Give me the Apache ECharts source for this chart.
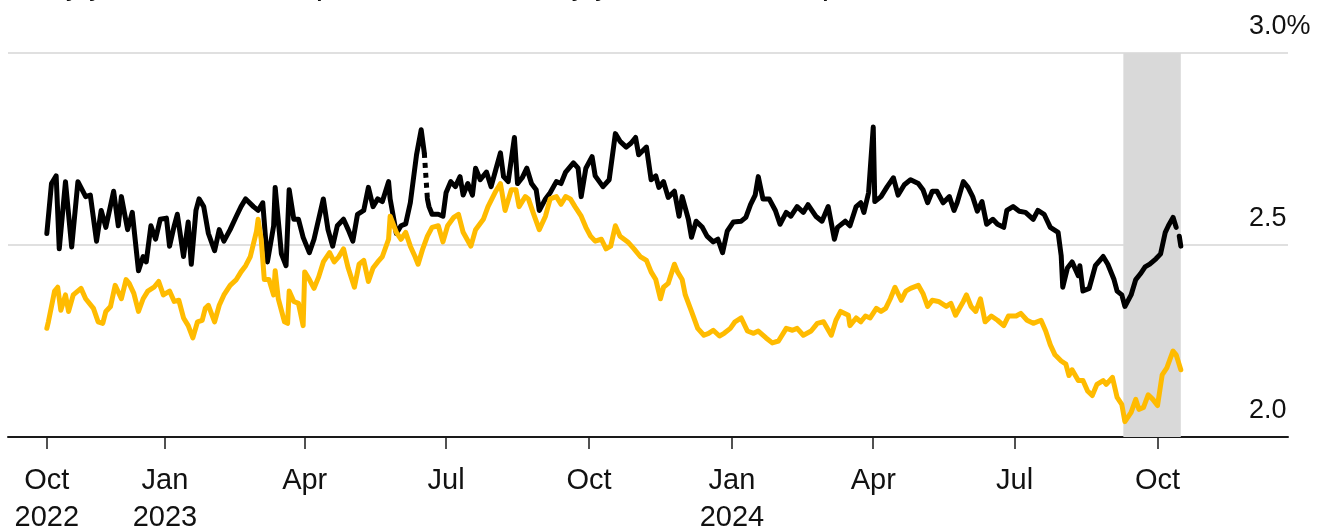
<!DOCTYPE html>
<html><head><meta charset="utf-8">
<script src="https://cdn.jsdelivr.net/npm/echarts@6/dist/echarts.min.js"></script>
<style>html,body{margin:0;padding:0;background:#fff}#c{width:1318px;height:528px}</style>
</head><body><div id="c"></div>
<script>
const FONT = '"Liberation Sans", "Helvetica Neue", Arial, sans-serif';

const seriesNames = ['US 5y5y forward inflation swap', 'Euro-area 5y5y forward inflation swap'];

const blackDates = ['2022-10-17','2022-10-20','2022-10-23','2022-10-25','2022-10-29','2022-11-02','2022-11-06','2022-11-11','2022-11-14','2022-11-18','2022-11-21','2022-11-24','2022-11-29','2022-12-02','2022-12-04','2022-12-08','2022-12-11','2022-12-15','2022-12-18','2022-12-20','2022-12-23','2022-12-26','2022-12-29',
'2023-01-02','2023-01-04','2023-01-07','2023-01-09','2023-01-13','2023-01-16','2023-01-18','2023-01-21','2023-01-23','2023-01-26','2023-01-29','2023-02-02','2023-02-05','2023-02-08','2023-02-12','2023-02-16','2023-02-19','2023-02-22','2023-02-27','2023-03-02','2023-03-05','2023-03-08','2023-03-12','2023-03-13','2023-03-17','2023-03-20','2023-03-22','2023-03-25','2023-03-28','2023-03-31',
'2023-04-04','2023-04-07','2023-04-13','2023-04-16','2023-04-19','2023-04-22','2023-04-26','2023-04-29','2023-05-02','2023-05-05','2023-05-09','2023-05-12','2023-05-15','2023-05-18','2023-05-21','2023-05-25','2023-05-26','2023-05-30','2023-06-02','2023-06-05','2023-06-08','2023-06-12','2023-06-15','2023-06-17','2023-06-18','2023-06-19','2023-06-20','2023-06-22','2023-06-26','2023-06-29',
'2023-07-01','2023-07-04','2023-07-07','2023-07-10','2023-07-12','2023-07-15','2023-07-18','2023-07-20','2023-07-23','2023-07-27','2023-07-30','2023-08-02','2023-08-05','2023-08-07','2023-08-10','2023-08-14','2023-08-16','2023-08-19','2023-08-22','2023-08-25','2023-08-28','2023-08-30','2023-09-03','2023-09-06','2023-09-10','2023-09-13','2023-09-16','2023-09-21','2023-09-24','2023-09-26','2023-09-29',
'2023-10-03','2023-10-05','2023-10-10','2023-10-14','2023-10-18','2023-10-21','2023-10-25','2023-10-28','2023-10-31','2023-11-02','2023-11-07','2023-11-10','2023-11-13','2023-11-15','2023-11-18','2023-11-21','2023-11-25','2023-11-28','2023-11-30','2023-12-04','2023-12-06','2023-12-09','2023-12-13','2023-12-16','2023-12-20','2023-12-23','2023-12-26','2023-12-29',
'2024-01-02','2024-01-07','2024-01-10','2024-01-13','2024-01-16','2024-01-18','2024-01-21','2024-01-25','2024-01-29','2024-02-01','2024-02-05','2024-02-08','2024-02-12','2024-02-16','2024-02-19','2024-02-24','2024-02-28','2024-03-03','2024-03-07','2024-03-09','2024-03-14','2024-03-17','2024-03-21','2024-03-24','2024-03-26','2024-03-29',
'2024-04-01','2024-04-02','2024-04-06','2024-04-10','2024-04-14','2024-04-17','2024-04-21','2024-04-25','2024-04-30','2024-05-03','2024-05-06','2024-05-09','2024-05-12','2024-05-16','2024-05-20','2024-05-23','2024-05-25','2024-05-29','2024-06-01','2024-06-04','2024-06-07','2024-06-10','2024-06-13','2024-06-17','2024-06-20','2024-06-24','2024-06-26','2024-06-30',
'2024-07-04','2024-07-08','2024-07-13','2024-07-16','2024-07-20','2024-07-24','2024-07-29','2024-07-31','2024-08-01','2024-08-04','2024-08-07','2024-08-11','2024-08-12','2024-08-14','2024-08-18','2024-08-22','2024-08-27','2024-08-30','2024-09-03','2024-09-05','2024-09-08','2024-09-10','2024-09-14','2024-09-17','2024-09-20','2024-09-23','2024-09-26','2024-09-30',
'2024-10-03','2024-10-06','2024-10-08','2024-10-11','2024-10-13','2024-10-14','2024-10-15','2024-10-16'];
const blackValues = [2.53,2.66,2.68,2.49,2.665,2.495,2.665,2.626,2.63,2.51,2.59,2.546,2.64,2.55,2.626,2.54,2.585,2.433,2.47,2.456,2.55,2.515,2.567,
2.57,2.497,2.55,2.58,2.47,2.56,2.45,2.59,2.62,2.60,2.53,2.485,2.54,2.51,2.54,2.575,2.60,2.62,2.60,2.59,2.61,2.456,2.55,2.65,2.477,2.446,2.644,2.567,2.567,2.52,
2.48,2.515,2.62,2.54,2.497,2.55,2.567,2.54,2.51,2.58,2.59,2.65,2.60,2.62,2.613,2.665,2.62,2.53,2.55,2.555,2.61,2.735,2.80,2.74,null,2.62,2.60,2.58,2.58,2.575,
2.636,2.665,2.652,2.678,2.63,2.66,2.63,2.70,2.67,2.69,2.652,2.696,2.74,2.678,2.665,2.78,2.66,2.675,2.70,2.66,2.644,2.59,2.62,2.636,2.665,2.66,2.69,2.714,2.70,2.626,2.70,
2.73,2.68,2.652,2.67,2.79,2.77,2.755,2.765,2.78,2.735,2.755,2.67,2.68,2.65,2.665,2.624,2.64,2.575,2.626,2.567,2.52,2.562,2.546,2.523,2.508,2.515,2.48,2.536,
2.56,2.562,2.572,2.605,2.63,2.678,2.62,2.62,2.59,2.554,2.585,2.575,2.60,2.585,2.605,2.575,2.562,2.60,2.515,2.546,2.562,2.55,2.60,2.61,2.585,2.636,
2.807,2.613,2.626,2.652,2.675,2.63,2.657,2.67,2.66,2.644,2.61,2.64,2.64,2.61,2.626,2.59,2.61,2.665,2.65,2.626,2.588,2.613,2.554,2.567,2.554,2.546,2.59,2.60,
2.588,2.585,2.567,2.59,2.58,2.546,2.533,2.472,2.39,2.44,2.456,2.42,2.446,2.38,2.387,2.446,2.47,2.45,2.41,2.38,2.37,2.34,2.37,2.41,2.425,2.443,2.45,2.464,
2.477,2.533,2.55,2.572,2.546,null,2.523,2.497];

const bridgeDates = ['2023-06-17','2023-06-19'];
const bridgeValues = [2.74, 2.62];

const yellowDates = ['2022-10-17','2022-10-18','2022-10-22','2022-10-24','2022-10-26','2022-10-29','2022-10-31','2022-11-03','2022-11-08','2022-11-11','2022-11-16','2022-11-19','2022-11-22','2022-11-24','2022-11-27','2022-11-30','2022-12-04','2022-12-07','2022-12-09','2022-12-12','2022-12-15','2022-12-18','2022-12-21','2022-12-25','2022-12-28','2022-12-31',
'2023-01-04','2023-01-07','2023-01-10','2023-01-13','2023-01-16','2023-01-19','2023-01-22','2023-01-25','2023-01-27','2023-01-29','2023-02-02','2023-02-05','2023-02-08','2023-02-12','2023-02-16','2023-02-19','2023-02-22','2023-02-25','2023-03-01','2023-03-02','2023-03-04','2023-03-06','2023-03-09','2023-03-12','2023-03-13','2023-03-15','2023-03-19','2023-03-21','2023-03-22','2023-03-25','2023-03-28','2023-03-31',
'2023-04-01','2023-04-04','2023-04-07','2023-04-10','2023-04-13','2023-04-17','2023-04-20','2023-04-23','2023-04-26','2023-04-29','2023-05-03','2023-05-06','2023-05-09','2023-05-12','2023-05-15','2023-05-18','2023-05-21','2023-05-25','2023-05-26','2023-05-30','2023-06-02','2023-06-05','2023-06-08','2023-06-11','2023-06-13','2023-06-16','2023-06-19','2023-06-22','2023-06-26','2023-06-29',
'2023-07-02','2023-07-06','2023-07-09','2023-07-12','2023-07-17','2023-07-20','2023-07-25','2023-07-28','2023-08-02','2023-08-05','2023-08-08','2023-08-12','2023-08-15','2023-08-17','2023-08-21','2023-08-23','2023-08-26','2023-08-30','2023-09-03','2023-09-06','2023-09-10','2023-09-13','2023-09-16','2023-09-19','2023-09-22','2023-09-26','2023-09-29',
'2023-10-02','2023-10-05','2023-10-09','2023-10-12','2023-10-15','2023-10-18','2023-10-21','2023-10-26','2023-10-30','2023-11-03','2023-11-07','2023-11-10','2023-11-13','2023-11-16','2023-11-18','2023-11-21','2023-11-25','2023-11-27','2023-11-30','2023-12-02','2023-12-06','2023-12-10','2023-12-14','2023-12-17','2023-12-20','2023-12-24','2023-12-27','2023-12-31',
'2024-01-03','2024-01-07','2024-01-11','2024-01-15','2024-01-18','2024-01-23','2024-01-27','2024-01-31','2024-02-05','2024-02-09','2024-02-12','2024-02-16','2024-02-21','2024-02-25','2024-02-29','2024-03-05','2024-03-08','2024-03-11','2024-03-16','2024-03-17','2024-03-21','2024-03-24','2024-03-27','2024-03-30',
'2024-04-03','2024-04-06','2024-04-09','2024-04-12','2024-04-15','2024-04-19','2024-04-22','2024-04-25','2024-04-30','2024-05-03','2024-05-06','2024-05-09','2024-05-13','2024-05-18','2024-05-21','2024-05-24','2024-05-29','2024-05-31','2024-06-03','2024-06-06','2024-06-09','2024-06-12','2024-06-16','2024-06-20','2024-06-24','2024-06-27',
'2024-07-02','2024-07-05','2024-07-09','2024-07-13','2024-07-18','2024-07-21','2024-07-24','2024-07-27','2024-07-31','2024-08-03','2024-08-05','2024-08-07','2024-08-11','2024-08-14','2024-08-17','2024-08-20','2024-08-23','2024-08-27','2024-08-29','2024-09-02','2024-09-05','2024-09-08','2024-09-10','2024-09-14','2024-09-17','2024-09-19','2024-09-22','2024-09-25','2024-09-28',
'2024-10-01','2024-10-04','2024-10-07','2024-10-11','2024-10-13','2024-10-16'];
const yellowValues = [2.283,2.30,2.38,2.39,2.33,2.37,2.327,2.37,2.387,2.36,2.335,2.30,2.296,2.327,2.34,2.395,2.36,2.41,2.40,2.374,2.327,2.36,2.38,2.39,2.405,2.37,
2.38,2.353,2.356,2.31,2.29,2.258,2.30,2.304,2.335,2.343,2.30,2.343,2.37,2.395,2.41,2.43,2.446,2.47,2.536,2.567,2.515,2.41,2.41,2.37,2.433,2.36,2.30,2.296,2.38,2.353,2.348,2.29,
2.43,2.41,2.387,2.417,2.456,2.48,2.456,2.47,2.49,2.44,2.39,2.45,2.46,2.405,2.44,2.456,2.47,2.515,2.575,2.533,2.515,2.533,2.497,2.47,2.45,2.49,2.523,2.546,2.55,2.508,
2.55,2.572,2.58,2.533,2.497,2.54,2.567,2.60,2.64,2.66,2.59,2.644,2.644,2.60,2.626,2.62,2.585,2.54,2.575,2.62,2.626,2.606,2.626,2.62,2.60,2.575,2.546,
2.523,2.51,2.515,2.49,2.497,2.55,2.523,2.508,2.49,2.47,2.46,2.43,2.41,2.36,2.39,2.40,2.45,2.43,2.41,2.37,2.327,2.283,2.265,2.27,2.278,2.263,2.27,2.283,
2.30,2.31,2.276,2.27,2.276,2.258,2.245,2.25,2.283,2.278,2.283,2.265,2.276,2.296,2.30,2.265,2.304,2.327,2.317,2.29,2.31,2.30,2.315,2.31,
2.335,2.327,2.335,2.36,2.39,2.356,2.38,2.387,2.395,2.374,2.34,2.356,2.353,2.34,2.348,2.317,2.353,2.37,2.34,2.327,2.36,2.30,2.315,2.304,2.29,2.315,
2.315,2.322,2.304,2.296,2.304,2.276,2.24,2.214,2.198,2.19,2.16,2.175,2.147,2.147,2.12,2.108,2.137,2.147,2.137,2.155,2.103,2.085,2.04,2.064,2.098,2.072,2.077,2.11,2.098,
2.082,2.162,2.18,2.224,2.214,2.175];

const xRange = ['2022-09-22', '2024-12-24'];
const tickDates = ['2022-10-17','2023-01-01','2023-04-01','2023-07-01','2023-10-01','2024-01-01','2024-04-01','2024-07-01','2024-10-01'];
const tickLabels = ['Oct\n2022','Jan\n2023','Apr','Jul','Oct','Jan\n2024','Apr','Jul','Oct'];
const yTickLabels = {'2': '2.0', '2.5': '2.5', '3': '3.0%'};
const shadeRange = ['2024-09-09', '2024-10-16'];

function ts(s) { const p = s.split('-').map(Number); return Date.UTC(p[0], p[1] - 1, p[2]); }
function pairs(dates, values) { return dates.map((d, i) => [ts(d), values[i]]); }
const tickTimes = tickDates.map(ts);

const chart = echarts.init(document.getElementById('c'), null, {renderer: 'canvas'});
chart.setOption({
  animation: false,
  backgroundColor: '#ffffff',
  grid: {left: 8, right: 30, top: 53, bottom: 91, containLabel: false, outerBoundsMode: 'none'},
  xAxis: {
    type: 'value',
    min: ts(xRange[0]), max: ts(xRange[1]),
    axisLine: {show: true, lineStyle: {color: '#1a1a1a', width: 2}},
    axisTick: {show: true, customValues: tickTimes, length: 12, lineStyle: {color: '#1a1a1a', width: 1.5}},
    axisLabel: {
      customValues: tickTimes,
      formatter: function (v) { const i = tickTimes.indexOf(v); return i >= 0 ? tickLabels[i] : ''; },
      fontSize: 29, lineHeight: 37, margin: 25, color: '#111', fontFamily: FONT
    },
    splitLine: {show: false}
  },
  yAxis: {
    type: 'value', position: 'right', min: 2, max: 3, interval: 0.5,
    axisLine: {show: false}, axisTick: {show: false},
    splitLine: {show: true, lineStyle: {color: '#d6d6d6', width: 1.5}},
    axisLabel: {
      formatter: function (v) { return yTickLabels[String(v)] || ''; },
      inside: false, margin: -39, align: 'left', verticalAlign: 'bottom',
      padding: [0, 0, 13, 0], fontSize: 27, color: '#111', fontFamily: FONT
    }
  },
  graphic: [
    {type: 'text', left: 19, top: -19, silent: true,
     style: {text: seriesNames[0], fill: '#111', font: 'bold 21px ' + FONT}},
    {type: 'text', left: 456, top: -19, silent: true,
     style: {text: seriesNames[1], fill: '#111', font: 'bold 21px ' + FONT}}
  ],
  series: [
    {type: 'line', name: 'shade', data: [], z: 1, silent: true,
     markArea: {silent: true, itemStyle: {color: '#d9d9d9'},
       data: [[{xAxis: ts(shadeRange[0])}, {xAxis: ts(shadeRange[1])}]]}},
    {type: 'line', name: seriesNames[0], data: pairs(blackDates, blackValues), z: 3,
     symbol: 'none', showSymbol: false, connectNulls: false,
     lineStyle: {color: '#000', width: 5, join: 'round', cap: 'round'}},
    {type: 'line', name: 'bridge', data: pairs(bridgeDates, bridgeValues), z: 3,
     symbol: 'none', showSymbol: false,
     lineStyle: {color: '#000', width: 5, type: [5, 5]}},
    {type: 'line', name: seriesNames[1], data: pairs(yellowDates, yellowValues), z: 4,
     symbol: 'none', showSymbol: false,
     lineStyle: {color: '#FFBB00', width: 5, join: 'round', cap: 'round'}}
  ]
});
</script>
</body></html>
